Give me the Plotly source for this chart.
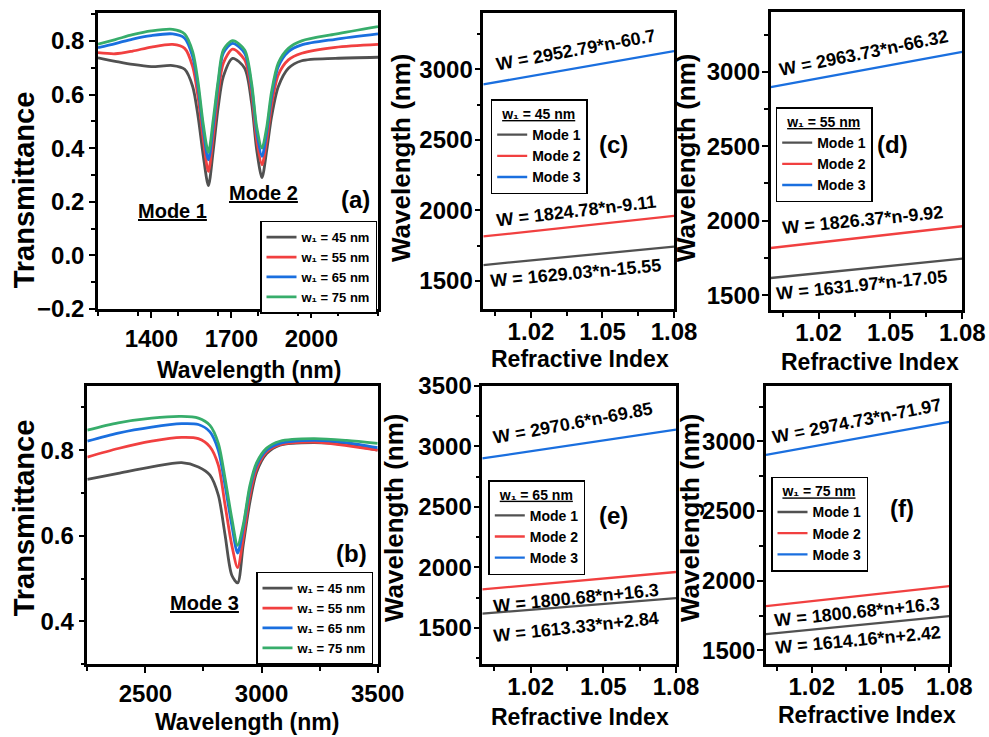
import plotly.graph_objects as go

W, H = 989, 737
FONT = "Liberation Sans, Arial, sans-serif"

# ---------------- data: panel (a) ----------------
wl_a = [1200, 1265, 1330, 1400, 1480, 1525, 1555, 1575, 1595, 1614, 1632, 1651, 1670,
        1705, 1750, 1776, 1795, 1815, 1833, 1851, 1876, 1914, 1964, 2090, 2250]
Ta_45 = [0.737, 0.724, 0.712, 0.704, 0.708, 0.694, 0.630, 0.520, 0.370, 0.260, 0.390, 0.555, 0.667,
         0.735, 0.698, 0.568, 0.394, 0.290, 0.394, 0.518, 0.629, 0.698, 0.726, 0.735, 0.739]
Ta_55 = [0.756, 0.752, 0.762, 0.777, 0.787, 0.772, 0.704, 0.592, 0.431, 0.313, 0.443, 0.605, 0.717,
         0.769, 0.729, 0.605, 0.431, 0.338, 0.431, 0.561, 0.673, 0.729, 0.754, 0.776, 0.787]
Ta_65 = [0.775, 0.790, 0.807, 0.820, 0.826, 0.810, 0.741, 0.629, 0.468, 0.356, 0.480, 0.642, 0.754,
         0.791, 0.754, 0.629, 0.462, 0.369, 0.462, 0.592, 0.704, 0.760, 0.785, 0.806, 0.826]
Ta_75 = [0.788, 0.805, 0.823, 0.837, 0.843, 0.826, 0.760, 0.648, 0.487, 0.384, 0.505, 0.654, 0.766,
         0.801, 0.766, 0.642, 0.480, 0.400, 0.480, 0.611, 0.717, 0.772, 0.800, 0.825, 0.853]

# ---------------- data: panel (b) ----------------
wl_b = [2250, 2383, 2527, 2656, 2728, 2778, 2814, 2843, 2872, 2897, 2921, 2950, 2979,
        3022, 3079, 3223, 3366, 3500]
Tb_45 = [0.732, 0.746, 0.761, 0.771, 0.761, 0.742, 0.695, 0.602, 0.508, 0.490, 0.578, 0.679, 0.749,
         0.792, 0.812, 0.818, 0.813, 0.800]
Tb_55 = [0.784, 0.804, 0.821, 0.830, 0.827, 0.808, 0.765, 0.672, 0.578, 0.526, 0.594, 0.695, 0.757,
         0.796, 0.813, 0.819, 0.811, 0.800]
Tb_65 = [0.821, 0.840, 0.854, 0.862, 0.860, 0.843, 0.800, 0.718, 0.625, 0.560, 0.617, 0.711, 0.765,
         0.800, 0.816, 0.823, 0.818, 0.806]
Tb_75 = [0.847, 0.864, 0.875, 0.879, 0.875, 0.858, 0.816, 0.734, 0.641, 0.578, 0.625, 0.718, 0.771,
         0.805, 0.821, 0.827, 0.823, 0.816]

width_labels = ["w₁ = 45 nm", "w₁ = 55 nm", "w₁ = 65 nm", "w₁ = 75 nm"]
mode_labels = ["Mode 1", "Mode 2", "Mode 3"]

# ---------------- data: panels (c)-(f) ----------------
n_idx = [1.00, 1.02, 1.04, 1.06, 1.08]
c_m1 = [1613.5, 1646.0, 1678.6, 1711.2, 1743.8]
c_m2 = [1815.7, 1852.2, 1888.7, 1925.2, 1961.7]
c_m3 = [2892.1, 2951.1, 3010.2, 3069.3, 3128.3]
d_m1 = [1614.9, 1647.6, 1680.2, 1712.8, 1745.5]
d_m2 = [1816.5, 1853.0, 1889.5, 1926.0, 1962.6]
d_m3 = [2897.4, 2956.7, 3016.0, 3075.2, 3134.5]
e_m1 = [1616.2, 1648.4, 1680.7, 1713.0, 1745.2]
e_m2 = [1817.0, 1853.0, 1889.0, 1925.0, 1961.0]
e_m3 = [2900.8, 2960.2, 3019.6, 3079.0, 3138.4]
f_m1 = [1616.6, 1648.9, 1681.2, 1713.4, 1745.7]
f_m2 = [1817.0, 1853.0, 1889.0, 1925.0, 1961.0]
f_m3 = [2902.8, 2962.3, 3021.8, 3081.2, 3140.7]

fit_c = ["W = 1629.03*n-15.55", "W = 1824.78*n-9.11", "W = 2952.79*n-60.7"]
fit_d = ["W = 1631.97*n-17.05", "W = 1826.37*n-9.92", "W = 2963.73*n-66.32"]
fit_e = ["W = 1613.33*n+2.84", "W = 1800.68*n+16.3", "W = 2970.6*n-69.85"]
fit_f = ["W = 1614.16*n+2.42", "W = 1800.68*n+16.3", "W = 2974.73*n-71.97"]
legend_titles = ["w₁ = 45 nm", "w₁ = 55 nm", "w₁ = 65 nm", "w₁ = 75 nm"]

colors = ["#515151", "#F14040", "#1A6FDF", "#37AD6B"]

fig = go.Figure()

# spectra
for ys, lab, col in zip([Ta_45, Ta_55, Ta_65, Ta_75], width_labels, colors):
    fig.add_trace(go.Scatter(x=wl_a, y=ys, mode="lines", name=lab,
                             line=dict(color=col, width=2.8, shape="spline", smoothing=0.8),
                             xaxis="x", yaxis="y", legend="legend"))
for ys, lab, col in zip([Tb_45, Tb_55, Tb_65, Tb_75], width_labels, colors):
    fig.add_trace(go.Scatter(x=wl_b, y=ys, mode="lines", name=lab,
                             line=dict(color=col, width=2.8, shape="spline", smoothing=0.8),
                             xaxis="x2", yaxis="y2", legend="legend2"))

panels = [(c_m1, c_m2, c_m3), (d_m1, d_m2, d_m3), (e_m1, e_m2, e_m3), (f_m1, f_m2, f_m3)]
for k, modes in enumerate(panels):
    ax = k + 3
    for ys, lab, col in zip(modes, mode_labels, colors[:3]):
        fig.add_trace(go.Scatter(x=n_idx, y=ys, mode="lines", name=lab,
                                 line=dict(color=col, width=2.3),
                                 xaxis=f"x{ax}", yaxis=f"y{ax}", legend=f"legend{ax}"))


def dom_x(p0, p1):
    return [p0 / W, p1 / W]


def dom_y(top, bottom):
    return [1 - bottom / H, 1 - top / H]


def axis(**kw):
    base = dict(showline=True, linecolor="black", linewidth=2.5, mirror=True,
                ticks="outside", ticklen=6, tickwidth=2, tickcolor="black",
                showgrid=False, zeroline=False, automargin=False,
                tickfont=dict(family=FONT, size=24, color="black", weight="bold"))
    base.update(kw)
    return base


def minor(dt):
    return dict(ticks="outside", ticklen=4, tickwidth=2, tickcolor="black", dtick=dt, showgrid=False)


lay = dict(
    template="none",
    width=W, height=H, margin=dict(l=0, r=0, t=0, b=0, pad=0, autoexpand=False),
    paper_bgcolor="white", plot_bgcolor="white", showlegend=True,
    font=dict(family=FONT, color="black"),
    xaxis=axis(domain=dom_x(98, 378), range=[1200, 2250], tick0=1400, dtick=300, minor=minor(150), anchor="y"),
    yaxis=axis(domain=dom_y(13, 309), range=[-0.2, 0.904], tick0=0, dtick=0.2, tickformat=".1f", minor=minor(0.1), anchor="x"),
    xaxis2=axis(domain=dom_x(87.3, 377.7), range=[2250, 3500], tick0=2500, dtick=500, minor=minor(250), anchor="y2"),
    yaxis2=axis(domain=dom_y(386, 664.3), range=[0.3, 0.95], tick0=0.4, dtick=0.2, tickformat=".1f", minor=minor(0.1), anchor="x2"),
)

xdoms = [(483.3, 674), (770.7, 962.3), (482.3, 676), (766, 949.3)]
ydoms = [(12.7, 309.3), (12.3, 310), (386, 664), (385.7, 664.3)]
yranges = [[1300, 3400], [1400, 3400], [1200, 3500], [1400, 3400]]
for k in range(4):
    ax = k + 3
    lay[f"xaxis{ax}"] = axis(domain=dom_x(*xdoms[k]), range=[1.0, 1.08], tick0=1.02, dtick=0.03,
                             tickformat=".2f", minor=minor(0.015), anchor=f"y{ax}",
                             ticklabelstandoff=-7)
    lay[f"yaxis{ax}"] = axis(domain=dom_y(*ydoms[k]), range=yranges[k], tick0=1500, dtick=500,
                             minor=minor(250), anchor=f"x{ax}", ticklabelstandoff=-3)


def legend_box(xpx, ypx, xanchor, size, title=None):
    d = dict(x=xpx / W, y=1 - ypx / H, xanchor=xanchor, yanchor="top",
             bgcolor="white", bordercolor="black", borderwidth=1.5,
             font=dict(family=FONT, size=size, color="black", weight="bold"),
             tracegroupgap=0, itemwidth=30)
    if title:
        d["title"] = dict(text=f"<u>{title}</u>", side="top center",
                          font=dict(family=FONT, size=14, color="black", weight="bold"))
    return d


lay["legend"] = legend_box(377, 220.7, "right", 13)
lay["legend2"] = legend_box(373, 571.7, "right", 13)
lay["legend3"] = legend_box(490.7, 99.3, "left", 14, legend_titles[0])
lay["legend4"] = legend_box(775.7, 107.3, "left", 14, legend_titles[1])
lay["legend5"] = legend_box(488.3, 480, "left", 14, legend_titles[2])
lay["legend6"] = legend_box(771, 476.7, "left", 14, legend_titles[3])

fig.update_layout(**lay)

annots = []


def txt(text, px, py, size, angle=0):
    annots.append(dict(text=f"<b>{text}</b>", x=px / W, y=1 - py / H, xref="paper", yref="paper",
                       xanchor="center", yanchor="middle", showarrow=False, textangle=angle,
                       font=dict(family=FONT, size=size, color="black")))


# axis titles
txt("Wavelength (nm)", 249.3, 370, 23)
txt("Transmittance", 24.3, 190, 29, -90)
txt("Wavelength (nm)", 246.7, 721.7, 23)
txt("Transmittance", 24.3, 518, 29, -90)
txt("Refractive Index", 580, 359.3, 23)
txt("Wavelength (nm)", 401, 158, 26, -90)
txt("Refractive Index", 870, 361.7, 23)
txt("Wavelength (nm)", 686, 158, 26, -90)
txt("Refractive Index", 580, 716.7, 23)
txt("Wavelength (nm)", 394, 518, 26, -90)
txt("Refractive Index", 866.7, 715, 23)
txt("Wavelength (nm)", 690, 518, 26, -90)

# panel labels & mode labels
txt("<u>Mode 1</u>", 172, 210.7, 20)
txt("<u>Mode 2</u>", 263.5, 192.7, 20)
txt("(a)", 355, 199, 24)
txt("<u>Mode 3</u>", 204, 602.7, 20)
txt("(b)", 351, 553.3, 24)
txt("(c)", 613.3, 144, 24)
txt("(d)", 892.3, 144, 24)
txt("(e)", 613.3, 515, 24)
txt("(f)", 902.3, 508.3, 24)

# fit equations
EQ = 18
txt(fit_c[2], 575.7, 50, EQ, -10.5)
txt(fit_c[1], 576, 210.7, EQ, -6.8)
txt(fit_c[0], 576, 273.3, EQ, -5.3)
txt(fit_d[2], 864.3, 53.3, EQ, -11.5)
txt(fit_d[1], 863.3, 220, EQ, -5.7)
txt(fit_d[0], 861.7, 285, EQ, -5.9)
txt(fit_e[2], 573.3, 422.7, EQ, -10.6)
txt(fit_e[1], 575.7, 597.7, EQ, -5.7)
txt(fit_e[0], 575.7, 626.7, EQ, -6.2)
txt(fit_f[2], 856.7, 420.7, EQ, -11.1)
txt(fit_f[1], 857.3, 611.7, EQ, -5.9)
txt(fit_f[0], 858.3, 640, EQ, -5.4)

fig.update_layout(annotations=annots)

fig.write_html("out.html", config={"displayModeBar": False},
               post_script="document.body.style.margin='0';document.body.style.padding='0';"
                           "document.body.style.overflow='hidden';")
